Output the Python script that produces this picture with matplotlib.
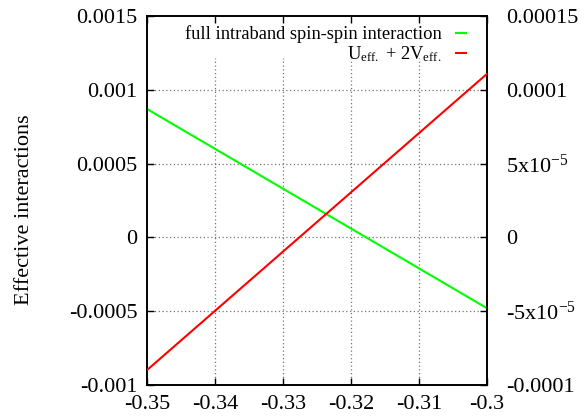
import matplotlib
matplotlib.use("Agg")
import matplotlib.pyplot as plt
from matplotlib.ticker import FixedLocator, FixedFormatter

# ---- data ----
x_vals = [-0.35, -0.30]
green_vals = [0.00087, -0.00048]          # left axis
red_vals = [-0.0000899, 0.0001108]        # right axis
green_label = "full intraband spin-spin interaction"
red_label = r"U$_{\mathrm{eff.}}$ + 2V$_{\mathrm{eff.}}$"

x_ticks = [-0.35, -0.34, -0.33, -0.32, -0.31, -0.30]
x_ticklabels = ["-0.35", "-0.34", "-0.33", "-0.32", "-0.31", "-0.3"]
y_ticks = [-0.001, -0.0005, 0, 0.0005, 0.001, 0.0015]
y_ticklabels = ["-0.001", "-0.0005", "0", "0.0005", "0.001", "0.0015"]
y2_ticks = [-0.0001, -0.00005, 0, 0.00005, 0.0001, 0.00015]
y2_ticklabels = ["-0.0001", r"-5x10$^{-5}$", "0", r"5x10$^{-5}$", "0.0001", "0.00015"]
ylabel = "Effective interactions"

plt.rcParams["font.family"] = ["Liberation Serif", "DejaVu Serif"]
plt.rcParams["mathtext.fontset"] = "custom"
plt.rcParams["mathtext.rm"] = "Liberation Serif"
plt.rcParams["mathtext.it"] = "Liberation Serif:italic"
plt.rcParams["mathtext.bf"] = "Liberation Serif:bold"
plt.rcParams["axes.unicode_minus"] = False

fig = plt.figure(figsize=(5.86, 4.2), dpi=100)
W, H = 586, 420
L, R, T, B = 147, 487, 16, 385
ax = fig.add_axes([L / W, 1 - B / H, (R - L) / W, (B - T) / H])
ax2 = ax.twinx()

ax.set_xlim(-0.35, -0.30)
ax.set_ylim(-0.001, 0.0015)
ax2.set_ylim(-0.0001, 0.00015)

l1, = ax.plot(x_vals, green_vals, color="#00ff00", lw=1.5, zorder=3)
l2, = ax2.plot(x_vals, red_vals, color="#ff0000", lw=1.5, zorder=3)

ax.xaxis.set_major_locator(FixedLocator(x_ticks))
ax.xaxis.set_major_formatter(FixedFormatter(x_ticklabels))
ax.yaxis.set_major_locator(FixedLocator(y_ticks))
ax.yaxis.set_major_formatter(FixedFormatter(y_ticklabels))
ax2.yaxis.set_major_locator(FixedLocator(y2_ticks))
ax2.yaxis.set_major_formatter(FixedFormatter(y2_ticklabels))

ax.tick_params(axis="x", direction="in", length=5, width=1, top=True, labelsize=16, pad=7)
ax.tick_params(axis="y", direction="in", length=5, width=1, right=False, labelsize=16, pad=7)
ax2.tick_params(axis="y", direction="in", length=5, width=1, labelsize=16, pad=14)
for a in (ax, ax2):
    for s in a.spines.values():
        s.set_linewidth(1.2)

# grid only at interior ticks; vertical grid stops below the key area
key_bottom = 1 - (58 - T) / (B - T)
for xv in x_ticks[1:-1]:
    ax.axvline(xv, ymax=key_bottom, color="#777777", lw=0.9, ls=(0, (1, 2)), zorder=1)
for yv in y_ticks[1:-1]:
    ax.axhline(yv, color="#777777", lw=0.9, ls=(0, (1, 2)), zorder=1)

ax.set_ylabel(ylabel, fontsize=16)
ax.yaxis.set_label_coords(34 / W, 0.5, transform=fig.transFigure)

leg = ax2.legend([l1, l2], [green_label, red_label], loc="upper right",
                 bbox_to_anchor=(1 - 14 / (R - L), 1 - 2 / (B - T)), borderaxespad=0,
                 fontsize=13.3, frameon=False, markerfirst=False,
                 handlelength=0.5, handletextpad=0.8, labelspacing=0.05,
                 borderpad=0.4)
for t in leg.get_texts():
    t.set_ha("right")

fig.savefig("out.png", dpi=100)
